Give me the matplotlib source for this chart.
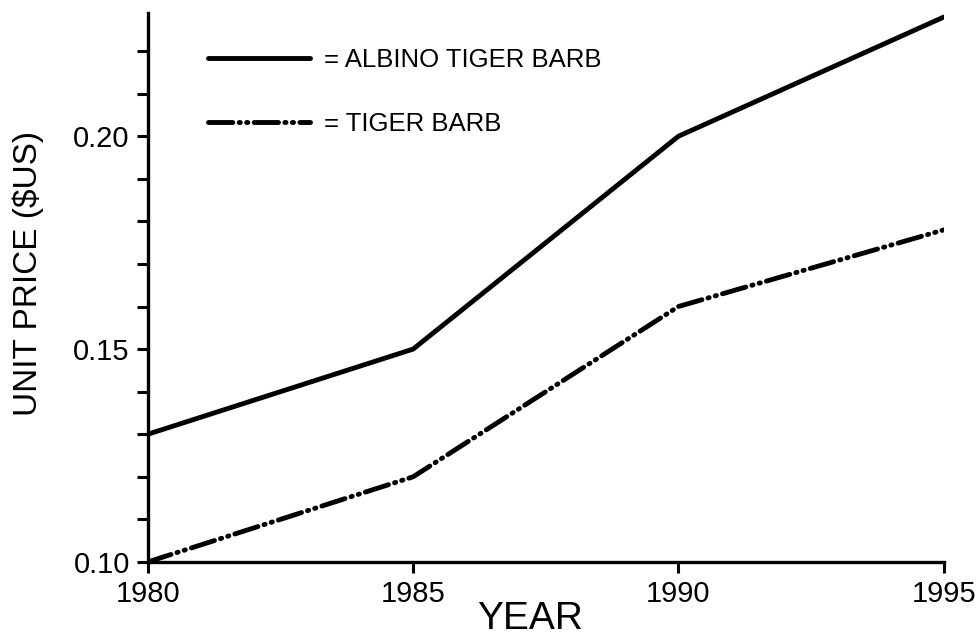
import numpy as np
import matplotlib
matplotlib.use("Agg")
import matplotlib.pyplot as plt
from matplotlib.ticker import MultipleLocator

# dannye s grafika
years = [1980, 1985, 1990, 1995]
albino_price = [0.130, 0.150, 0.200, 0.228]
tiger_price = [0.100, 0.120, 0.160, 0.178]
series_labels = ["= ALBINO TIGER BARB", "= TIGER BARB"]

plt.rcParams['font.family'] = ['Liberation Sans', 'DejaVu Sans']

fig = plt.figure(figsize=(9.79, 6.4), dpi=100)
ax = fig.add_axes([0.151, 0.122, 0.813, 0.858])

ax.plot(years, albino_price, color='black', lw=3.5, solid_capstyle='round',
        label=series_labels[0])
ax.plot(years, tiger_price, color='black', lw=3.5, dash_capstyle='round',
        linestyle=(0, (5.0, 1.3, 0.25, 1.3, 0.25, 1.3)), label=series_labels[1])

ax.set_xlim(1980, 1995)
ax.set_ylim(0.10, 0.229)
ax.set_xticks([1980, 1985, 1990, 1995])
ax.yaxis.set_major_locator(MultipleLocator(0.05))
ax.yaxis.set_minor_locator(MultipleLocator(0.01))
ax.yaxis.set_major_formatter(plt.FormatStrFormatter('%.2f'))

for side in ['top', 'right']:
    ax.spines[side].set_visible(False)
for side in ['left', 'bottom']:
    ax.spines[side].set_linewidth(2.4)

ax.tick_params(axis='both', which='both', direction='out', width=2.2, length=8,
               labelsize=21, colors='black')
ax.tick_params(axis='x', pad=5)
ax.tick_params(axis='y', pad=5)

ax.set_xlabel('YEAR', fontsize=28)
ax.set_ylabel('UNIT PRICE ($US)', fontsize=24)
ax.xaxis.set_label_coords(0.48, -0.072)
ax.yaxis.set_label_coords(-0.13, 0.526)

ax.legend(loc='upper left', bbox_to_anchor=(0.075, 0.936), frameon=False,
          fontsize=18.5, handlelength=4.0, handletextpad=0.55, labelspacing=1.55,
          borderaxespad=0, borderpad=0)

fig.savefig('out.png', dpi=100)
